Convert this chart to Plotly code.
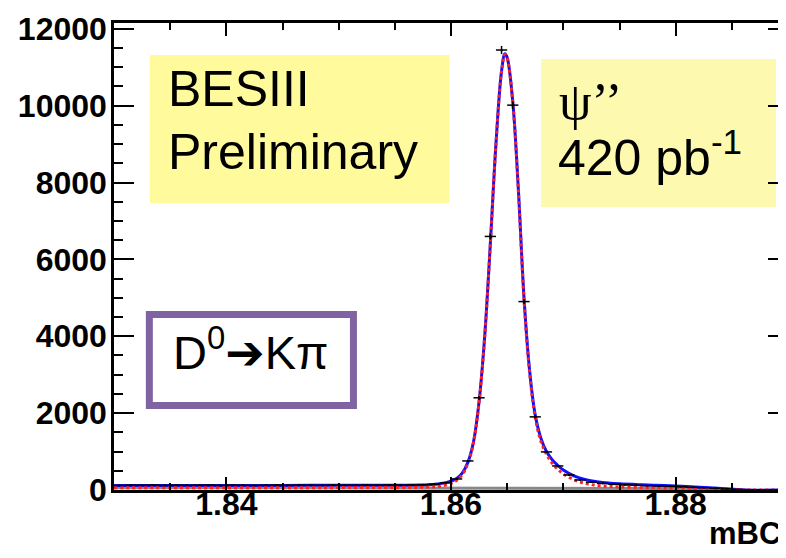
import numpy as np
import plotly.graph_objects as go

# ---- data: histogram (bin centres, counts), bin width 0.001
bin_centers = [1.8305, 1.8315, 1.8325, 1.8335, 1.8345, 1.8355, 1.8365, 1.8375, 1.8385, 1.8395,
               1.8405, 1.8415, 1.8425, 1.8435, 1.8445, 1.8455, 1.8465, 1.8475, 1.8485, 1.8495,
               1.8505, 1.8515, 1.8525, 1.8535, 1.8545, 1.8555, 1.8565, 1.8575, 1.8585, 1.8595,
               1.8605, 1.8615, 1.8625, 1.8635, 1.8645, 1.8655, 1.8665, 1.8675, 1.8685, 1.8695,
               1.8705, 1.8715, 1.8725, 1.8735, 1.8745, 1.8755, 1.8765, 1.8775, 1.8785, 1.8795,
               1.8805, 1.8815, 1.8825, 1.8835, 1.8845, 1.8855, 1.8865, 1.8875, 1.8885, 1.8895]
counts = [118, 125, 122, 130, 119, 127, 121, 124, 128, 120,
          126, 123, 119, 125, 130, 122, 127, 124, 121, 128,
          126, 123, 129, 125, 131, 127, 133, 138, 150, 185,
          287, 756, 2399, 6597, 11447, 10013, 4902, 1903, 991, 626,
          391, 261, 205, 172, 150, 135, 124, 113, 104, 95,
          84, 72, 60, 46, 30, 12, 3, 1, 0, 0]

# ---- fit curve
fit_x = [1.830, 1.835, 1.840, 1.845, 1.850, 1.855, 1.858, 1.859, 1.860, 1.8605,
         1.861, 1.8615, 1.862, 1.8625, 1.863, 1.8635, 1.864, 1.8645, 1.8648, 1.865,
         1.8655, 1.866, 1.8665, 1.867, 1.8675, 1.868, 1.8685, 1.869, 1.8695, 1.870,
         1.871, 1.872, 1.873, 1.874, 1.875, 1.877, 1.879, 1.881, 1.883, 1.8845,
         1.8855, 1.8862, 1.890]
fit_y = [120, 120, 120, 120, 122, 125, 135, 160, 230, 300,
         440, 720, 1250, 2300, 4000, 6400, 9000, 10900, 11350, 11250,
         10100, 7800, 5000, 3100, 1950, 1350, 1000, 790, 640, 520,
         360, 270, 215, 180, 160, 135, 115, 90, 60, 35,
         15, 0, 0]
# second (red dotted) component
red_y = [60, 60, 60, 60, 62, 64, 75, 100, 170, 250,
         400, 690, 1230, 2280, 3980, 6380, 8980, 10880, 11330, 11230,
         10080, 7770, 4960, 3050, 1880, 1270, 930, 700, 540, 420,
         260, 170, 120, 95, 80, 65, 55, 45, 30, 15,
         6, 0, 0]
# background component
bkg_x = [1.830, 1.840, 1.850, 1.860, 1.870, 1.878, 1.883, 1.8862]
bkg_y = [60, 60, 60, 58, 52, 42, 25, 0]

x_ticks = [1.84, 1.86, 1.88]
y_ticks = [0, 2000, 4000, 6000, 8000, 10000, 12000]

# ---- layout geometry (pixels)
W, H = 786, 558
L, R, T, B = 106, 783, 15, 482


def px(x, y):
    return (x - L) / (R - L), (B - y) / (B - T)


fig = go.Figure()

fig.add_trace(go.Scatter(x=bkg_x, y=bkg_y, mode="lines",
                         line=dict(color="#888888", width=3), hoverinfo="skip"))
fig.add_trace(go.Scatter(x=fit_x, y=fit_y, mode="lines", line_shape="spline",
                         line=dict(color="#1010ff", width=3)))
fig.add_trace(go.Scatter(x=fit_x, y=red_y, mode="lines", line_shape="spline",
                         line=dict(color="#ff2020", width=3, dash="dot")))
fig.add_trace(go.Scatter(x=bin_centers, y=counts, mode="markers",
                         marker=dict(color="black", size=2),
                         error_x=dict(type="constant", value=0.0005, color="black",
                                      thickness=1.5, width=0),
                         error_y=dict(type="data", array=list(np.sqrt(counts)),
                                      color="black", thickness=1.5, width=0)))

shapes = []
# yellow boxes
x0, y0 = px(142, 195); x1, y1 = px(443, 47)
shapes.append(dict(type="rect", xref="paper", yref="paper", x0=x0, y0=y0, x1=x1, y1=y1,
                   fillcolor="#FFFB9C", line=dict(width=0), layer="below"))
x0, y0 = px(535, 199); x1, y1 = px(771, 51)
shapes.append(dict(type="rect", xref="paper", yref="paper", x0=x0, y0=y0, x1=x1, y1=y1,
                   fillcolor="#FDF9AE", line=dict(width=0), layer="below"))
# purple box
x0, y0 = px(141.5, 397.5); x1, y1 = px(346.5, 306.5)
shapes.append(dict(type="rect", xref="paper", yref="paper", x0=x0, y0=y0, x1=x1, y1=y1,
                   fillcolor="white", line=dict(color="#8064A2", width=7), layer="above"))

ann = []
txt_font = dict(family="Liberation Sans, Arial", color="black")
for text, xp, yp, size, fam in [("BESIII", 158, 81, 50, "Liberation Sans, Arial"),
                                 ("Preliminary", 158, 144, 50, "Liberation Sans, Arial"),
                                 ("ψ’’", 551, 93, 52, "Liberation Serif, Times New Roman"),
                                 ("420 pb<sup>-1</sup>", 550, 146, 50, "Liberation Sans, Arial")]:
    ax, ay = px(xp, yp)
    ann.append(dict(text=text, x=ax, y=ay, xref="paper", yref="paper", showarrow=False,
                    xanchor="left", yanchor="middle",
                    font=dict(size=size, family=fam, color="black")))
ax, ay = px(243, 341)
ann.append(dict(text="D<sup>0</sup><span style=\"font-family:DejaVu Sans;font-weight:bold\">➔</span>Kπ",
                x=ax, y=ay, xref="paper", yref="paper",
                showarrow=False, xanchor="center", yanchor="middle",
                font=dict(size=47, **txt_font)))
ax, ay = px(778, 525)
ann.append(dict(text="mBC", x=ax, y=ay, xref="paper", yref="paper", showarrow=False,
                xanchor="right", yanchor="middle",
                font=dict(size=31, family="Liberation Sans, Arial", color="black",
                          weight="bold")))

tickfont = dict(size=32, family="Liberation Sans, Arial", color="black", weight="bold")

fig.update_layout(
    width=W, height=H,
    margin=dict(l=L, r=W - R, t=T, b=H - B),
    paper_bgcolor="white", plot_bgcolor="white",
    showlegend=False,
    shapes=shapes, annotations=ann,
    xaxis=dict(range=[1.83, 1.89], tickvals=x_ticks, ticktext=[f"{v:.2f}" for v in x_ticks],
               ticks="inside", ticklen=13, tickwidth=1.5, tickcolor="black",
               showline=True, linewidth=2.5, linecolor="black", mirror="allticks",
               showgrid=False, zeroline=False, tickfont=tickfont, ticklabelstandoff=-16,
               minor=dict(tick0=1.83, dtick=0.005, ticks="inside", ticklen=7,
                          tickwidth=1.5, tickcolor="black", showgrid=False)),
    yaxis=dict(range=[0, 12150], tickvals=y_ticks, ticktext=[str(v) for v in y_ticks],
               ticks="inside", ticklen=20, tickwidth=1.5, tickcolor="black",
               showline=True, linewidth=2.5, linecolor="black", mirror="allticks",
               showgrid=False, zeroline=False, tickfont=tickfont,
               ticklabelstandoff=-2,
               minor=dict(tick0=0, dtick=500, ticks="inside", ticklen=9,
                          tickwidth=1.5, tickcolor="black", showgrid=False)),
)

fig.write_html("out.html")
